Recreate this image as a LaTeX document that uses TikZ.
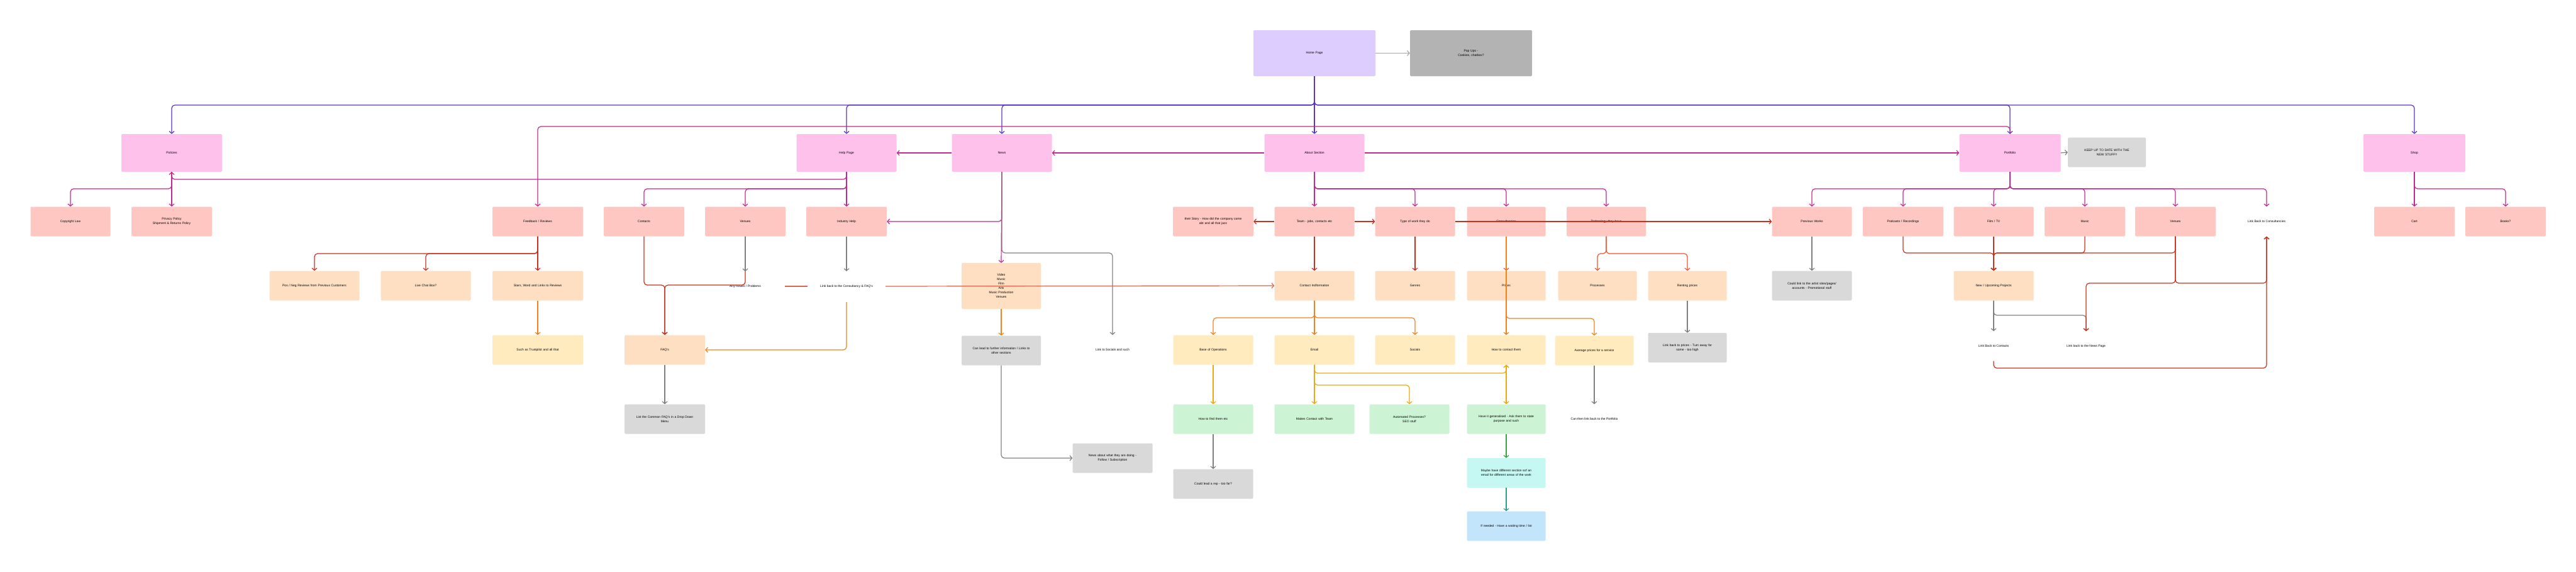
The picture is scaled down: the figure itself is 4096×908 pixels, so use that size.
\documentclass[tikz,border=0pt]{standalone}
\usepackage{fontspec}
\setmainfont{Liberation Sans}
\usetikzlibrary{arrows.meta}
\pgfdeclarelayer{bg}\pgfsetlayers{bg,main}
\definecolor{cpurple}{HTML}{DDCDFE}
\definecolor{cpink}{HTML}{FEC1EC}
\definecolor{csalmon}{HTML}{FFC7C2}
\definecolor{cpeach}{HTML}{FFDFC2}
\definecolor{cyel}{HTML}{FFEBBD}
\definecolor{cgreen}{HTML}{CCF4D4}
\definecolor{cgray}{HTML}{D9D9D9}
\definecolor{cdgray}{HTML}{B3B3B3}
\definecolor{ccyan}{HTML}{C5F8F2}
\definecolor{cblue}{HTML}{C2E5FC}
\definecolor{lpu}{HTML}{5B32C9}
\definecolor{lmg}{HTML}{C2288F}
\definecolor{lred}{HTML}{C9301E}
\definecolor{lor}{HTML}{F0821E}
\definecolor{lorr}{HTML}{F0522E}
\definecolor{lyel}{HTML}{EBA812}
\definecolor{lgr}{HTML}{808080}
\definecolor{lcoral}{HTML}{D9654F}
\definecolor{lgreen}{HTML}{36A14B}
\definecolor{lteal}{HTML}{2A9D8F}
\tikzset{
 x=1pt,y=-1pt,
 box/.style={rounded corners=1.5pt,align=center,font=\fontsize{5}{7}\selectfont,minimum width=127pt,minimum height=47pt,inner sep=2pt,text width=#1},
 box/.default=120pt,
 big/.style={box,minimum width=160pt,minimum height=60pt,fill=cpink},
 txt/.style={align=center,font=\fontsize{5}{7}\selectfont,minimum width=120pt,minimum height=47pt,inner sep=0pt},
 con/.style={line width=1.2pt,rounded corners=5pt,-{Straight Barb[length=3.5pt,width=8pt]}},
 pu/.style={con,draw=lpu},mg/.style={con,draw=lmg},rd/.style={con,draw=lred},
 orr/.style={con,draw=lor},orr2/.style={con,draw=lorr},ye/.style={con,draw=lyel},
 gr/.style={con,draw=lgr},co/.style={con,draw=lcoral},gn/.style={con,draw=lgreen},tl/.style={con,draw=lteal}
}
\begin{document}
\begin{tikzpicture}
\useasboundingbox[fill=white] (0,0) rectangle (4096,908);
% top
\node[box,fill=cpurple,minimum width=194pt,minimum height=73pt] (home) at (2090,84.5) {Home Page};
\node[box,fill=cdgray,minimum width=194pt,minimum height=73pt] (popups) at (2339,84.5) {Pop Ups -\\Cookies, chatbox?};
% row1
\node[big] (policies) at (273,243) {Policies};
\node[big,minimum width=159pt] (help) at (1346,243) {Help Page};
\node[big,minimum width=159pt] (news) at (1593,243) {News};
\node[big,minimum width=159pt] (about) at (2090,243) {About Section};
\node[big,minimum width=161pt] (portfolio) at (3196,243) {Portfolio};
\node[box,fill=cgray,minimum width=99pt] (keepup) at (3350,242) {KEEP UP TO DATE WITH THE\\NEW STUFF!!};
\node[big,minimum width=162pt] (shop) at (3839,243) {Shop};
% row2
\node[box,fill=csalmon] (copyright) at (112,352) {Copyright Law};
\node[box,fill=csalmon,minimum width=128pt] (privacy) at (273,352) {Privacy Policy\\Shipment \& Returns Policy};
\node[box,fill=csalmon,minimum width=144pt] (feedback) at (855,352) {Feedback / Reviews};
\node[box,fill=csalmon,minimum width=128pt] (contacts) at (1024,352) {Contacts};
\node[box,fill=csalmon,minimum width=128pt] (venuesH) at (1185,352) {Venues};
\node[box,fill=csalmon,minimum width=128pt] (industry) at (1346,352) {Industry Help};
\node[box,fill=csalmon,minimum width=128pt] (story) at (1929,352) {their Story - How did the company come\\abt and all that jazz};
\node[box,fill=csalmon] (team) at (2090,352) {Team - jobs, contacts etc};
\node[box,fill=csalmon] (typework) at (2250,352) {Type of work they do};
\node[box,fill=csalmon,minimum width=125pt] (consult) at (2395,352) {Consultancies};
\node[box,fill=csalmon,minimum width=126pt] (tech) at (2554,352) {Technology they have};
\node[box,fill=csalmon] (prevworks) at (2881,352) {Previous Works};
\node[box,fill=csalmon,minimum width=128pt] (podcasts) at (3026,352) {Podcasts / Recordings};
\node[box,fill=csalmon] (filmtv) at (3170,352) {Film / TV};
\node[box,fill=csalmon,minimum width=128pt] (music) at (3315,352) {Music};
\node[box,fill=csalmon,minimum width=128pt] (venuesP) at (3459,352) {Venues};
\node[txt] (linkcons) at (3604,352) {Link Back to Consultancies};
\node[box,fill=csalmon,minimum width=128pt] (cart) at (3839,352) {Cart};
\node[box,fill=csalmon,minimum width=128pt] (books) at (3984,352) {Books?};
% row3
\node[box,fill=cpeach,minimum width=143pt] (posneg) at (500,454) {Pos / Neg Reviews from Previous Customers};
\node[box,fill=cpeach,minimum width=143pt] (livechat) at (677,454) {Live Chat Box?};
\node[box,fill=cpeach,minimum width=144pt] (stars) at (855,454) {Stars, Word and Links to Reviews};
\node[txt,minimum width=80pt] (anyissues) at (1185,455) {Any Issues / Problems};
\node[txt,minimum width=124pt,fill=white,minimum height=10pt] (linkback) at (1346,455) {Link back to the Consultancy \& FAQ's};
\node[box,fill=cpeach,minimum width=126pt,minimum height=73pt] (video) at (1592,454.5) {Video\\Music\\Film\\Arts\\Music Production\\Venues};
\node[box,fill=cpeach] (contactinfo) at (2090,454) {Contact Indformation};
\node[box,fill=cpeach] (genres) at (2250,454) {Genres};
\node[box,fill=cpeach,minimum width=125pt] (prices) at (2395,454) {Prices};
\node[box,fill=cpeach,minimum width=125pt] (processes) at (2540,454) {Processes};
\node[box,fill=cpeach,minimum width=125pt] (renting) at (2683,454) {Renting prices};
\node[box,fill=cgray] (artist) at (2881,454) {Could link to the artist sites/pages/\\accounts - Promotional stuff};
\node[box,fill=cpeach] (newup) at (3170,454) {New / Upcoming Projects};
% row4
\node[box,fill=cyel,minimum width=144pt] (trust) at (855,556) {Such as Trustpilot and all that};
\node[box,fill=cpeach,minimum width=128pt] (faqs) at (1057,556) {FAQ's};
\node[box,fill=cgray,minimum width=126pt] (canlead) at (1592,557) {Can lead to further information / Links to\\other sections};
\node[txt] (socialtxt) at (1769,556) {Link to Socials and such};
\node[box,fill=cyel] (baseops) at (1929,556) {Base of Operations};
\node[box,fill=cyel] (email) at (2090,556) {Email};
\node[box,fill=cyel] (socials) at (2250,556) {Socials};
\node[box,fill=cyel,minimum width=125pt] (howcontact) at (2395,556) {How to contact them};
\node[box,fill=cyel,minimum width=125pt] (avgprices) at (2535,557) {Average prices for a service};
\node[box,fill=cgray,minimum width=125pt] (linkprices) at (2683,552.5) {Link back to prices - Turn away for\\some - too high};
\node[txt] (linkcontacts) at (3170,550) {Link Back to Contacts};
\node[txt] (linknews) at (3317,550) {Link back to the News Page};
% row5
\node[box,fill=cgray,minimum width=128pt] (faqlist) at (1057,666) {List the Common FAQ's in a Drop Down\\Menu};
\node[box,fill=cgreen] (howfind) at (1929,666) {How to find them etc};
\node[box,fill=cgreen] (makes) at (2090,666) {Makes Contact with Team};
\node[box,fill=cgreen] (automated) at (2241,666) {Automated Processes?\\SEO stuff};
\node[box,fill=cgreen,minimum width=125pt] (general) at (2395,666) {Have it generalised - Ask them to state\\purpose and such};
\node[txt] (portlink) at (2535,666) {Can then link back to the Portfolio};
\node[box,fill=cgray] (newsabout) at (1769,728) {News about what they are doing -\\Follow / Subscription};
\node[box,fill=cgray] (couldrep) at (1929,769) {Could lead a rep - too far?};
\node[box,fill=ccyan,minimum width=125pt] (maybe) at (2395,751.5) {Maybe have different section sof an\\email for different areas of the work};
\node[box,fill=cblue,minimum width=125pt] (ifneeded) at (2395,836) {If needed - Have a waiting time / list};
\coordinate (coralstart) at (1248,455);
% background connectors
\begin{pgfonlayer}{bg}
\draw[mg] (about.west) -| (baseops.north);
\draw[mg] (industry.south) -- (1346,402) -| (faqs.north);
\end{pgfonlayer}
% purple
\foreach \n in {policies,help,news,portfolio,shop}{\draw[pu] (home.south) -- (2090,167) -| (\n.north);}
\draw[pu] (home.south) -- (about.north);
\draw[gr,draw=lgr!70] (home.east) -- (popups.west);
% magenta
\draw[mg] (portfolio.north) |- (855,201) -- (feedback.north);
\draw[mg] (help.south) |- (273,285) -- (policies.south);
\draw[mg] (policies.south) -- (privacy.north);
\draw[mg] (policies.south) -- (273,300) -| (copyright.north);
\foreach \n in {contacts,venuesH,industry}{\draw[mg] (help.south) -- (1346,300) -| (\n.north);}
\draw[mg] (news.west) -- (help.east);
\draw[mg] (about.west) -- (news.east);
\draw[mg] (about.east) -- (portfolio.west);
\draw[mg] (news.south) |- (industry.east);
\draw[mg] (news.south) -- (video.north);
\draw[gr] (news.south) -- (1593,402) -| (socialtxt.north);
\draw[mg] (about.south) -- (team.north);
\foreach \n in {typework,consult,tech}{\draw[mg] (about.south) -- (2090,300) -| (\n.north);}
\foreach \n in {prevworks,podcasts,filmtv,music,venuesP,linkcons}{\draw[mg] (portfolio.south) -- (3196,300) -| (\n.north);}
\foreach \n in {cart,books}{\draw[mg] (shop.south) -- (3839,300) -| (\n.north);}
\draw[gr] (portfolio.east) -- (keepup.west);
% help side
\draw[rd] (feedback.south) -- (stars.north);
\foreach \n in {posneg,livechat}{\draw[rd] (feedback.south) -- (855,403) -| (\n.north);}
\draw[orr] (stars.south) -- (trust.north);
\draw[rd] (contacts.south) -- (1024,453) -| (faqs.north);
\draw[rd] (venuesH.south) -- (1185,453) -| (faqs.north);
\draw[gr] (venuesH.south) -- (anyissues.north);
\draw[gr] (industry.south) -- (1346,431);
\draw[orr] (1346,480) |- (faqs.east);
\draw[gr] (faqs.south) -- (faqlist.north);
\draw[co,-] (coralstart) -- (linkback.west);
\draw[co] (linkback.east) -- (contactinfo.west);
\draw[orr] (video.south) -- (canlead.north);
\draw[gr] (canlead.south) |- (newsabout.west);
% about side
\draw[rd] (team.west) -- (story.east);
\draw[rd] (team.east) -- (typework.west);
\draw[rd] (team.south) -- (contactinfo.north);
\draw[rd] (typework.south) -- (genres.north);
\draw[rd] (typework.east) -- (prevworks.west);
\draw[orr2] (consult.south) -- (prices.north);
\draw[orr] (consult.south) -- (howcontact.north);
\foreach \n in {processes,renting}{\draw[orr2] (tech.south) -- (2554,403) -| (\n.north);}
\draw[gr] (renting.south) -- (linkprices.north);
\draw[orr] (prices.south) -- (2395,506) -| (avgprices.north);
\draw[gr] (avgprices.south) -- (portlink.north);
\draw[orr] (contactinfo.south) -- (email.north);
\foreach \n in {baseops,socials}{\draw[orr] (contactinfo.south) -- (2090,505) -| (\n.north);}
\draw[ye] (email.south) -- (2090,593) -| (howcontact.south);
\draw[ye] (email.south) -- (2090,612) -| (automated.north);
\draw[ye] (email.south) -- (makes.north);
\draw[ye,{Straight Barb[length=3.5pt,width=8pt]}-{Straight Barb[length=3.5pt,width=8pt]}] (howcontact.south) -- (general.north);
\draw[gn] (general.south) -- (maybe.north);
\draw[tl] (maybe.south) -- (ifneeded.north);
\draw[ye] (baseops.south) -- (howfind.north);
\draw[gr] (howfind.south) -- (couldrep.north);
% portfolio side
\draw[gr] (prevworks.south) -- (artist.north);
\foreach \n/\x in {podcasts/3026,filmtv/3170,music/3315,venuesP/3459}{\draw[rd] (\n.south) -- (\x,402) -| (newup.north);}
\draw[gr] (newup.south) -- (linkcontacts.north);
\draw[gr] (newup.south) -- (3170,501) -| (linknews.north);
\draw[rd] (venuesP.south) -- (3459,450) -| (linknews.north);
\draw[rd] (venuesP.south) -- (3459,450) -| (linkcons.south);
\draw[rd] (linkcontacts.south) -- (3170,585) -| (linkcons.south);
\end{tikzpicture}
\end{document}
